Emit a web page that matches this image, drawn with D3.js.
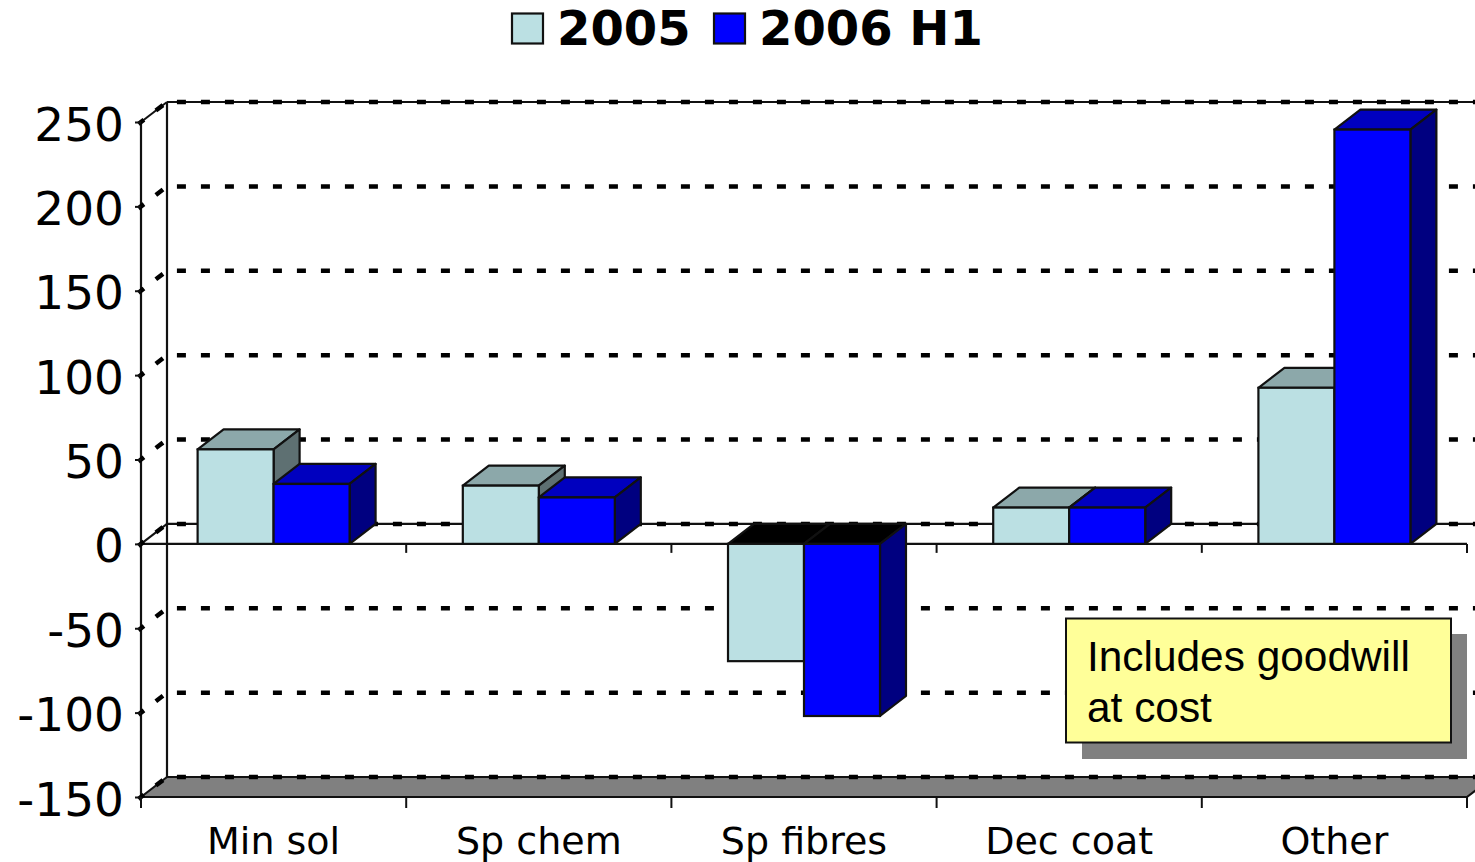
<!DOCTYPE html>
<html>
<head>
<meta charset="utf-8">
<script src="https://cdn.jsdelivr.net/npm/d3@7"></script>
<style>
  html, body { margin: 0; padding: 0; background: #fff; overflow: hidden; }
  svg { display: block; }
  text { fill: #000; }
</style>
</head>
<body>
<script>
var categories = ['Min sol', 'Sp chem', 'Sp fibres', 'Dec coat', 'Other'];
var seriesNames = ['2005', '2006 H1'];
var values2005 = [56, 34.5, -69.5, 21.5, 92.5];
var values2006 = [35.5, 27.5, -102, 21.5, 245.5];
var seriesColors = ['#bbe0e3', '#0000ff'];
var yTicks = [-150, -100, -50, 0, 50, 100, 150, 200, 250];
var noteLines = ['Includes goodwill', 'at cost'];

var width = 1475;
var height = 862;
var depthX = 26;
var depthY = 20;
var line = '#111';

var svg = d3.select('body').append('svg')
  .attr('width', width)
  .attr('height', height);

var x = d3.scaleBand().domain(categories).range([141, 1467]);
var x1 = d3.scaleBand().domain(seriesNames).range([0, x.step()])
  .paddingInner(0).paddingOuter(0.745);
var y = d3.scaleLinear().domain([-150, 250]).range([797, 122]);

function shade(color, k) {
  var c = d3.rgb(color);
  return d3.rgb(c.r * k, c.g * k, c.b * k).formatHex();
}

function poly(points, fill) {
  svg.append('polygon')
    .attr('points', points.map(function(p) { return p.join(','); }).join(' '))
    .style('fill', fill)
    .style('stroke', line)
    .style('stroke-width', 2.2)
    .style('stroke-linejoin', 'round');
}

function solid(x1, y1, x2, y2, w) {
  svg.append('line')
    .attr('x1', x1).attr('y1', y1)
    .attr('x2', x2).attr('y2', y2)
    .style('stroke', line)
    .style('stroke-width', w || 2.2);
}

// floor
var left = x.range()[0];
var right = x.range()[1];
var bottom = y(-150);
poly([
  [left, bottom],
  [left + depthX, bottom - depthY],
  [right + depthX, bottom - depthY],
  [right, bottom]
], '#808080');

// walls and the plane at zero
solid(left, y(250), left, bottom);
solid(left + depthX, y(250) - depthY, left + depthX, bottom - depthY);
solid(left + depthX, y(250) - depthY, right + depthX, y(250) - depthY);
solid(left + depthX, y(0) - depthY, right + depthX, y(0) - depthY);
solid(left, y(0), right, y(0));
solid(left, y(0), left + depthX, y(0) - depthY, 2);
solid(left, y(250), left + depthX, y(250) - depthY, 2);

// dotted gridlines run along the side wall and then the back wall
svg.append('g').selectAll('path')
  .data(yTicks)
  .join('path')
  .attr('d', function(d) {
    return 'M' + (left - 2.6) + ',' + (y(d) + 2) +
      'L' + (left + depthX) + ',' + (y(d) - depthY) +
      'L' + (right + depthX) + ',' + (y(d) - depthY);
  })
  .style('fill', 'none')
  .style('stroke', '#000')
  .style('stroke-width', 4.5)
  .style('stroke-dasharray', '9 15')
  .style('stroke-dashoffset', 2);

// axes
var yAxis = d3.axisLeft(y)
  .tickValues(yTicks)
  .tickSize(6)
  .tickPadding(11)
  .tickFormat(function(d) { return String(d); });

var yg = svg.append('g')
  .attr('transform', 'translate(' + left + ',0)')
  .call(yAxis);
yg.select('.domain').remove();
yg.selectAll('line').style('stroke', line).style('stroke-width', 2);
yg.selectAll('text')
  .attr('y', 3)
  .style('font-family', '"DejaVu Sans"')
  .style('font-size', '47px');

var xAxis = d3.axisBottom(x).tickSize(0).tickPadding(30);
var xg = svg.append('g')
  .attr('transform', 'translate(0,' + bottom + ')')
  .call(xAxis);
xg.select('.domain').remove();
xg.selectAll('text')
  .style('font-family', '"DejaVu Sans"')
  .style('font-size', '38px');

// ticks sit on the band edges, at zero and on the floor
categories.forEach(function(c) {
  var edge = x(c) + x.step();
  solid(edge, y(0), edge, y(0) + 9, 2);
  solid(edge, bottom, edge, bottom + 11, 2);
});
solid(left, bottom, left, bottom + 11, 2);

// bars
function drawBar(category, series, value, color) {
  var bx = x(category) + x1(series);
  var bw = x1.bandwidth();
  var y0 = y(0);
  var yv = y(value);
  var topY = Math.min(y0, yv);
  var faceH = Math.abs(y0 - yv);

  poly([
    [bx, topY],
    [bx + depthX, topY - depthY],
    [bx + bw + depthX, topY - depthY],
    [bx + bw, topY]
  ], value < 0 ? '#000000' : shade(color, 0.75));

  poly([
    [bx + bw, topY],
    [bx + bw + depthX, topY - depthY],
    [bx + bw + depthX, topY + faceH - depthY],
    [bx + bw, topY + faceH]
  ], shade(color, 0.5));

  svg.append('rect')
    .attr('x', bx)
    .attr('y', topY)
    .attr('width', bw)
    .attr('height', faceH)
    .style('fill', color)
    .style('stroke', line)
    .style('stroke-width', 2.2);
}

categories.forEach(function(c, i) {
  drawBar(c, seriesNames[0], values2005[i], seriesColors[0]);
  drawBar(c, seriesNames[1], values2006[i], seriesColors[1]);
});

// legend
var legendX = [512, 714];
seriesNames.forEach(function(name, i) {
  svg.append('rect')
    .attr('x', legendX[i])
    .attr('y', 13.5)
    .attr('width', 31)
    .attr('height', 30)
    .style('fill', seriesColors[i])
    .style('stroke', line)
    .style('stroke-width', 2.2);
  svg.append('text')
    .attr('x', legendX[i] + 45)
    .attr('y', 45)
    .style('font-family', '"DejaVu Sans"')
    .style('font-weight', 'bold')
    .style('font-size', '48px')
    .text(name);
});

// note box
svg.append('rect')
  .attr('x', 1082).attr('y', 634)
  .attr('width', 385).attr('height', 125)
  .style('fill', '#808080');
svg.append('rect')
  .attr('x', 1066).attr('y', 618.5)
  .attr('width', 385).attr('height', 124)
  .style('fill', '#ffff99')
  .style('stroke', line)
  .style('stroke-width', 2);
noteLines.forEach(function(t, i) {
  svg.append('text')
    .attr('x', 1087)
    .attr('y', 671 + i * 51)
    .style('font-family', '"Liberation Sans"')
    .style('font-size', '42.4px')
    .text(t);
});
</script>
</body>
</html>
